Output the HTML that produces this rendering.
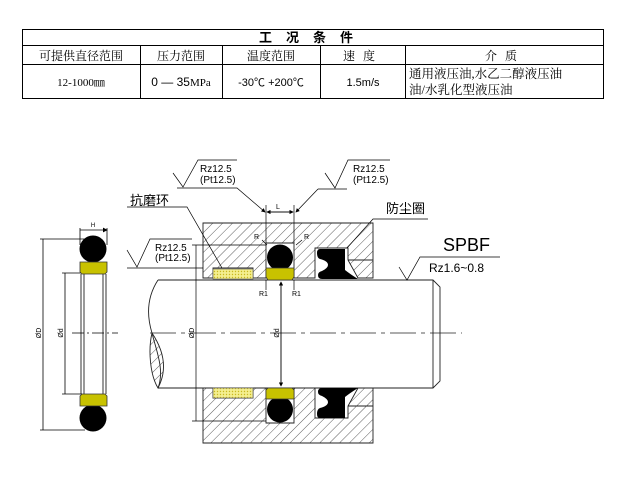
<!DOCTYPE html>
<html><head><meta charset="utf-8"><style>
body{margin:0;background:#fff;width:618px;height:488px;overflow:hidden;}
svg{display:block}
text{font-family:"Liberation Sans","Noto Sans CJK SC",sans-serif;fill:#000}
.s{font-family:"Liberation Serif","Noto Serif CJK SC",serif}
</style></head><body>
<svg width="618" height="488" viewBox="0 0 618 488" xmlns="http://www.w3.org/2000/svg">
<defs>
<pattern id="h" width="7" height="7" patternUnits="userSpaceOnUse" patternTransform="rotate(45)">
<line x1="0" y1="0" x2="0" y2="7" stroke="#333" stroke-width="0.8"/></pattern>
<pattern id="y" width="3" height="3" patternUnits="userSpaceOnUse">
<rect width="3" height="3" fill="#f4ef90"/><circle cx="1.5" cy="1.5" r="0.7" fill="#c9b820"/></pattern>
<marker id="a" markerWidth="6" markerHeight="6" refX="5" refY="3" orient="auto"><path d="M0,0 L6,3 L0,6z" fill="#000"/></marker>
</defs>
<!-- table -->
<g stroke="#000" fill="none" stroke-width="1">
<rect x="22.5" y="29.5" width="581" height="69"/>
<line x1="22" y1="45.5" x2="604" y2="45.5"/>
<line x1="22" y1="64.5" x2="604" y2="64.5"/>
<line x1="140.5" y1="45" x2="140.5" y2="99"/>
<line x1="222.5" y1="45" x2="222.5" y2="99"/>
<line x1="320.5" y1="45" x2="320.5" y2="99"/>
<line x1="405.5" y1="45" x2="405.5" y2="99"/>
</g>
<text x="313" y="42" font-size="13" font-weight="bold" text-anchor="middle" letter-spacing="14">工况条件</text>
<g font-size="12" fill="#333" text-anchor="middle">
<text class="s" x="81" y="60">可提供直径范围</text>
<text class="s" x="181" y="60">压力范围</text>
<text class="s" x="271" y="60">温度范围</text>
<text class="s" x="363" y="60" letter-spacing="8">速度</text>
<text class="s" x="505" y="60" letter-spacing="8">介质</text>
<text class="s" x="81" y="86" font-size="11">12-1000㎜</text>
<text x="181" y="86" font-size="12">0 — 35<tspan class="s" font-size="11">MPa</tspan></text>
<text x="271" y="86" font-size="11">-30℃ +200℃</text>
<text x="363" y="86" font-size="11">1.5m/s</text>
</g>
<text class="s" x="409" y="78" font-size="12.5">通用液压油,水乙二醇液压油</text>
<text class="s" x="409" y="94" font-size="12.5">油/水乳化型液压油</text>

<!-- left ring -->
<g stroke="#000" stroke-width="0.8" fill="none">
<line x1="80" y1="228" x2="80" y2="245"/><line x1="107" y1="228" x2="107" y2="245"/>
<line x1="80" y1="230" x2="107" y2="230" marker-end="url(#a)"/>
<line x1="81" y1="274" x2="81" y2="394"/><line x1="106" y1="274" x2="106" y2="394"/>
<line x1="84" y1="274" x2="84" y2="394"/><line x1="103" y1="274" x2="103" y2="394"/>
<line x1="40" y1="239" x2="85" y2="239"/><line x1="40" y1="430" x2="85" y2="430"/>
<line x1="43" y1="239" x2="43" y2="430"/>
<line x1="62" y1="273" x2="82" y2="273"/><line x1="62" y1="394" x2="82" y2="394"/>
<line x1="65" y1="273" x2="65" y2="394"/>
<line x1="72" y1="333" x2="118" y2="333" stroke-dasharray="12,3,2,3"/>
</g>
<text x="93" y="227" font-size="6" text-anchor="middle">H</text>
<text x="0" y="0" font-size="7" transform="translate(41,333) rotate(-90)" text-anchor="middle">ØD</text>
<text x="0" y="0" font-size="7" transform="translate(63,333) rotate(-90)" text-anchor="middle">Ød</text>
<circle cx="93" cy="249" r="13.5" fill="#000"/>
<circle cx="93" cy="418" r="13.5" fill="#000"/>
<path d="M80,262 H107 V272 L105,274 H82 L80,272Z" fill="#c8c200" stroke="#333" stroke-width="0.8"/>
<path d="M82,394 H105 L107,396 V406 H80 V396Z" fill="#c8c200" stroke="#333" stroke-width="0.8"/>

<!-- housing -->
<g stroke="#222" stroke-width="0.9">
<path d="M203,223 H373 V278 H358 L348,260 V248 H315 V278 H294 V243 H266 V278 H253 V268 H213 V278 H203Z" fill="url(#h)"/>
<path d="M203,443 H373 V388 H358 L348,406 V418 H315 V388 H294 V423 H266 V388 H253 V398 H213 V388 H203Z" fill="url(#h)"/>
<line x1="348" y1="260" x2="373" y2="260"/><line x1="348" y1="406" x2="373" y2="406"/>
</g>
<!-- shaft -->
<g stroke="#222" stroke-width="0.9" fill="none">
<path d="M158,280 H433 L440,287 V381 L433,388 H158"/>
<line x1="433" y1="280" x2="433" y2="388"/>
<path d="M158,280 C145,300 148,320 152,333 C156,350 165,370 158,388"/>
<path d="M152,333 C160,345 170,365 158,388 C150,375 148,350 152,333Z" fill="url(#h)"/>
<line x1="150" y1="333" x2="462" y2="333" stroke-dasharray="26,5,4,5" stroke-width="0.7"/>
</g>
<!-- seals -->
<rect x="213" y="269" width="40" height="10" fill="url(#y)" stroke="#555" stroke-width="0.6"/>
<rect x="213" y="388" width="40" height="10" fill="url(#y)" stroke="#555" stroke-width="0.6"/>
<circle cx="280" cy="257.5" r="13" fill="#000"/>
<circle cx="280" cy="409.5" r="13" fill="#000"/>
<path d="M266,268 H294 V277 L292,280 H268 L266,277Z" fill="#c8c200" stroke="#333" stroke-width="0.7"/>
<path d="M268,388 H292 L294,390 V399 H266 V390Z" fill="#c8c200" stroke="#333" stroke-width="0.7"/>
<path d="M320,249 H345 V270 Q350,274 358,279 H322 Q318,279 318,275 Q318,272 322,271 Q328,268 328,265 Q328,261 320,259 Q317,258 317,253 Q317,249 320,249Z" fill="#000"/>
<path d="M320,418 H345 V397 Q350,393 358,388 H322 Q318,388 318,392 Q318,395 322,396 Q328,399 328,402 Q328,406 320,408 Q317,409 317,414 Q317,418 320,418Z" fill="#000"/>

<!-- dims -->
<g stroke="#000" stroke-width="0.7" fill="none">
<line x1="192" y1="245" x2="266" y2="245"/><line x1="192" y1="421" x2="266" y2="421"/>
<line x1="196" y1="245" x2="196" y2="421"/>
<line x1="281" y1="282" x2="281" y2="386" marker-end="url(#a)"/>
<line x1="281" y1="386" x2="281" y2="282" marker-end="url(#a)"/>
<line x1="266" y1="205" x2="266" y2="243"/><line x1="294" y1="205" x2="294" y2="243"/>
<line x1="267" y1="212" x2="293" y2="212" marker-end="url(#a)"/>
<line x1="293" y1="212" x2="267" y2="212" marker-end="url(#a)"/>
<line x1="266" y1="280" x2="266" y2="290"/><line x1="294" y1="280" x2="294" y2="290"/>
<line x1="262" y1="240" x2="267" y2="245"/><line x1="302" y1="240" x2="296" y2="245"/>
<path d="M173,173 L183,187 L198,160 H237"/>
<path d="M177,188 H237 L265,212" marker-end="url(#a)"/>
<path d="M325,173 L335,188 L348,160 H390"/>
<path d="M318,189 H347"/>
<path d="M318,189 L296,212" marker-end="url(#a)"/>
<path d="M127,250 L137,267 L150,239 H192"/>
<path d="M127,268 H203"/>
<path d="M127,207 H187 L222,268"/>
<path d="M428,219 H373 L347,248"/>
<path d="M399,267 L407,280 L420,257 H500"/>
</g>
<text x="0" y="0" font-size="7" transform="translate(194,333) rotate(-90)" text-anchor="middle">ØD</text>
<text x="0" y="0" font-size="7" transform="translate(279,333) rotate(-90)" text-anchor="middle">Ød</text>
<g font-size="10">
<text x="200" y="172">Rz12.5</text><text x="200" y="183">(Pt12.5)</text>
<text x="353" y="172">Rz12.5</text><text x="353" y="183">(Pt12.5)</text>
<text x="155" y="251">Rz12.5</text><text x="155" y="261">(Pt12.5)</text>
</g>
<text x="130" y="205" font-size="13">抗磨环</text>
<text x="386" y="213" font-size="13">防尘圈</text>
<text x="443" y="251" font-size="18">SPBF</text>
<text x="429" y="272" font-size="12">Rz1.6~0.8</text>
<text x="276" y="209" font-size="7">L</text>
<g font-size="7"><text x="254" y="239">R</text><text x="304" y="239">R</text>
<text x="259" y="296">R1</text><text x="292" y="296">R1</text></g>
</svg>
</body></html>
